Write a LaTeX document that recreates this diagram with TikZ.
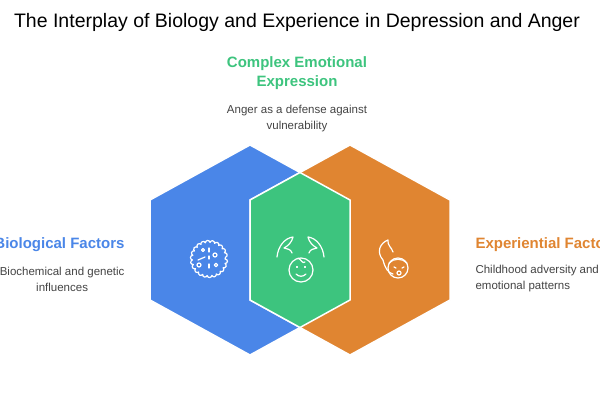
\documentclass[tikz,border=0pt]{standalone}
\usepackage{fontspec}
\setmainfont{Liberation Sans}
\usetikzlibrary{decorations.pathmorphing}
\definecolor{cblue}{HTML}{4A86E8}
\definecolor{cgreen}{HTML}{3DC47E}
\definecolor{corange}{HTML}{E08531}
\definecolor{ctext}{HTML}{444444}
\begin{document}
\begin{tikzpicture}[x=1pt,y=-1pt,
  hex/.style={draw=white,line width=1.5pt},
  head/.style={font=\fontsize{15}{19}\selectfont\bfseries},
  body/.style={font=\fontsize{11.5}{16}\selectfont,text=ctext},
  ico/.style={draw=white,line width=1.2pt,line cap=round,line join=round}]
\useasboundingbox (0,0) rectangle (600,403);
\fill[white] (0,0) rectangle (600,403);
\node[font=\fontsize{19.5}{22}\selectfont,text=black] (title) at (297,22) {The Interplay of Biology and Experience in Depression and Anger};
\path[hex,fill=cblue] (250,145) -- (350,200) -- (350,300) -- (250,355) -- (150,300) -- (150,200) -- cycle;
\path[hex,fill=corange] (350,145) -- (450,200) -- (450,300) -- (350,355) -- (250,300) -- (250,200) -- cycle;
\path[hex,fill=cgreen] (300,172.5) -- (350,200) -- (350,300) -- (300,327.5) -- (250,300) -- (250,200) -- cycle;
% headings
\node[head,text=cgreen,align=center] (h2) at (297,73) {Complex Emotional\\Expression};
\node[body,align=center] (b2) at (297,119) {Anger as a defense against\\vulnerability};
\node[head,text=cblue,anchor=east] (h1) at (128,245) {Biological Factors};
\node[body,align=center,anchor=east] (b1) at (128,279) {Biochemical and genetic\\influences};
\node[head,text=corange,anchor=west] (h3) at (472,245) {Experiential Factors};
\node[body,align=left,anchor=west] (b3) at (472,279) {Childhood adversity and\\emotional patterns};
% icon 1: brain cell
\draw[ico,decorate,decoration={bumps,segment length=9pt,amplitude=2.5pt}] (209,259) circle (16);
\draw[ico] (209,248)--(209,252) (209,256)--(209,259) (209,264)--(209,268);
\draw[ico] (203,250) circle (1.5) (215,255) circle (2) (199,265) circle (2) (216,265) circle (1.8) (205,257)--(198,260);
% icon 2: hands over face
\draw[ico] (301,270) circle (12);
\draw[ico] (297,267) circle (0.5) (305,267) circle (0.5);
\draw[ico] (296,274) .. controls (299,277) and (303,277) .. (306,274);
\draw[ico] (298,258) .. controls (302,260) and (302,264) .. (305,262);
\draw[ico] (277,257) .. controls (278,246) and (285,238) .. (293,237) .. controls (292,242) and (288,246) .. (284,248) .. controls (287,249) and (291,249) .. (292,253);
\draw[ico] (324,257) .. controls (323,246) and (316,238) .. (308,237) .. controls (309,242) and (313,246) .. (317,248) .. controls (314,249) and (310,249) .. (309,253);
% icon 3: flame and angry face
\draw[ico] (383,260) .. controls (376,252) and (380,243) .. (388,240) .. controls (387,245) and (392,248) .. (393,252);
\draw[ico] (383,260) .. controls (385,268) and (388,273) .. (393,274);
\draw[ico] (398,268) circle (10);
\draw[ico] (389,263) .. controls (394,258) and (402,258) .. (407,263);
\draw[ico] (394,267)--(396,268) (402,268)--(404,267);
\draw[ico] (399,273) circle (2);
\end{tikzpicture}
\end{document}
